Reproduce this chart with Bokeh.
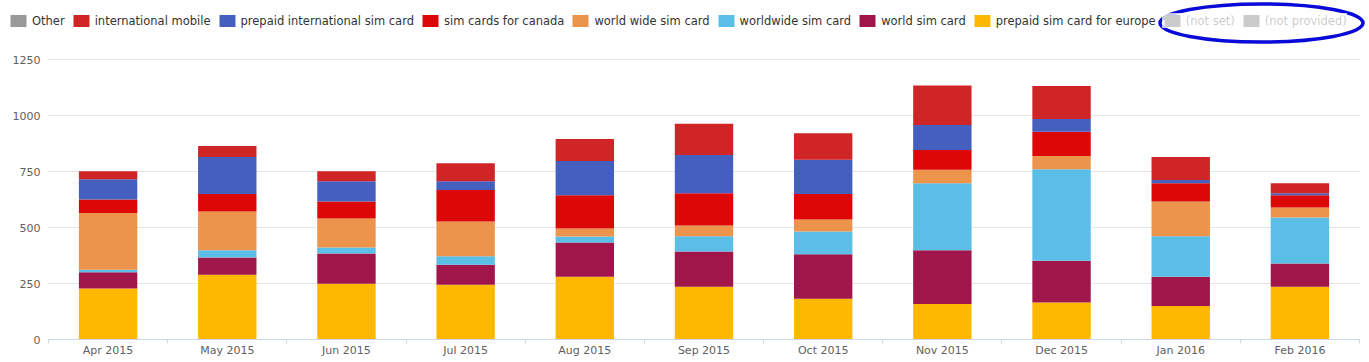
from bokeh.plotting import figure
from bokeh.models import Range1d, FixedTicker, Legend, LegendItem, ColumnDataSource
from bokeh.embed import file_html
from bokeh.resources import INLINE

# ---- data ----
months = ["Apr 2015", "May 2015", "Jun 2015", "Jul 2015", "Aug 2015", "Sep 2015",
          "Oct 2015", "Nov 2015", "Dec 2015", "Jan 2016", "Feb 2016"]
prepaid_europe = [228, 289, 249, 245, 280, 236, 182, 159, 165, 150, 236]
world_sim = [72, 77, 135, 89, 153, 157, 199, 240, 187, 130, 103]
worldwide_sim = [12, 33, 27, 38, 27, 68, 101, 299, 409, 181, 206]
world_wide_sim = [253, 173, 130, 155, 36, 48, 54, 60, 59, 156, 45]
canada = [61, 78, 76, 141, 148, 144, 114, 89, 108, 81, 54]
prepaid_intl = [90, 165, 90, 39, 153, 171, 153, 111, 57, 15, 9]
intl_mobile = [36, 49, 45, 81, 99, 140, 119, 177, 148, 102, 45]
other = [0, 0, 0, 0, 0, 0, 0, 0, 0, 0, 0]
not_set = [0, 0, 0, 0, 0, 0, 0, 0, 0, 0, 0]
not_provided = [0, 0, 0, 0, 0, 0, 0, 0, 0, 0, 0]
y_ticks = [0, 250, 500, 750, 1000, 1250]

stack_keys = ["prepaid_europe", "world_sim", "worldwide_sim", "world_wide_sim", "canada",
              "prepaid_intl", "intl_mobile", "other", "not_set", "not_provided"]
labels = {
    "other": "Other",
    "intl_mobile": "international mobile",
    "prepaid_intl": "prepaid international sim card",
    "canada": "sim cards for canada",
    "world_wide_sim": "world wide sim card",
    "worldwide_sim": "worldwide sim card",
    "world_sim": "world sim card",
    "prepaid_europe": "prepaid sim card for europe",
    "not_set": "(not set)",
    "not_provided": "(not provided)",
}
colors = {
    "other": "#999999",
    "intl_mobile": "#d02526",
    "prepaid_intl": "#445fbe",
    "canada": "#dc0707",
    "world_wide_sim": "#ec934c",
    "worldwide_sim": "#5abee7",
    "world_sim": "#a1164a",
    "prepaid_europe": "#ffb800",
    "not_set": "#333333",
    "not_provided": "#333333",
}
hidden = ["not_set", "not_provided"]
legend_order = ["other", "intl_mobile", "prepaid_intl", "canada", "world_wide_sim",
                "worldwide_sim", "world_sim", "prepaid_europe", "not_set", "not_provided"]

n = len(months)
source = ColumnDataSource(dict(
    x=list(range(n)),
    prepaid_europe=prepaid_europe, world_sim=world_sim, worldwide_sim=worldwide_sim,
    world_wide_sim=world_wide_sim, canada=canada, prepaid_intl=prepaid_intl,
    intl_mobile=intl_mobile, other=other, not_set=not_set, not_provided=not_provided,
))

W = 1369
TOP_H = 44

# ---------------- legend strip (top) ----------------
top = figure(width=W, height=TOP_H, min_border=0,
             x_range=Range1d(0, W), y_range=Range1d(0, TOP_H),
             x_axis_type=None, y_axis_type=None,
             output_backend="svg", toolbar_location=None)
top.outline_line_color = None
top.grid.visible = False

# zero-width proxies of each series: they only supply the legend swatches
legend_rs = {}
for k in legend_order:
    r = top.vbar(x="x", top=k, width=0, source=source, fill_color=colors[k], line_color=None)
    if k in hidden:
        r.visible = False
    legend_rs[k] = r

items = [LegendItem(label=labels[k], renderers=[legend_rs[k]]) for k in legend_order]
legend = Legend(items=items, orientation="horizontal", location=(8, 16),
                padding=0, margin=0, spacing=6,
                glyph_width=20, glyph_height=15, label_height=15, label_standoff=4,
                label_text_font="DejaVu Sans", label_text_font_size="11.5px",
                label_text_color="#333333",
                border_line_color=None, background_fill_alpha=0,
                click_policy="hide", inactive_fill_color="white", inactive_fill_alpha=0.75)
top.add_layout(legend, "center")

# hand-drawn style highlight ellipse around the last two legend entries
top.ellipse(x=[1261], y=[21.5], width=203, height=38,
            fill_alpha=0, line_color="#0a0ad8", line_width=3.5)

# ---------------- main chart ----------------
FW, FH = 1311, 295
p = figure(frame_width=FW, frame_height=FH,
           min_border_left=48, min_border_right=10, min_border_top=0, min_border_bottom=20,
           x_range=Range1d(-0.5, n - 0.5), y_range=Range1d(0, 1318),
           output_backend="svg", toolbar_location=None)
p.outline_line_color = None

xa = p.xaxis[0]
xa.ticker = FixedTicker(ticks=list(range(n)), minor_ticks=[i - 0.5 for i in range(n + 1)])
xa.major_label_overrides = {i: m for i, m in enumerate(months)}
xa.major_tick_in = 0
xa.major_tick_out = 0
xa.major_tick_line_color = None
xa.minor_tick_in = 0
xa.minor_tick_out = 4
xa.minor_tick_line_color = "#ccd6eb"
xa.axis_line_color = "#ccd6eb"
xa.major_label_standoff = 0
xa.major_label_text_font = "DejaVu Sans"
xa.major_label_text_font_size = "11px"
xa.major_label_text_color = "#606060"

ya = p.yaxis[0]
ya.ticker = FixedTicker(ticks=y_ticks)
ya.axis_line_color = None
ya.major_tick_line_color = None
ya.minor_tick_line_color = None
ya.major_tick_in = 0
ya.major_tick_out = 0
ya.major_label_standoff = 8
ya.major_label_text_font = "DejaVu Sans"
ya.major_label_text_font_size = "11px"
ya.major_label_text_color = "#606060"

p.xgrid.visible = False
p.ygrid.grid_line_color = "#e6e6e6"

rs = p.vbar_stack(stack_keys, x="x", width=0.49, source=source,
                  fill_color=[colors[k] for k in stack_keys], line_color=None)
for k, r in zip(stack_keys, rs):
    if k in hidden:
        r.visible = False

open("out.html", "w").write(file_html([top, p], INLINE))
